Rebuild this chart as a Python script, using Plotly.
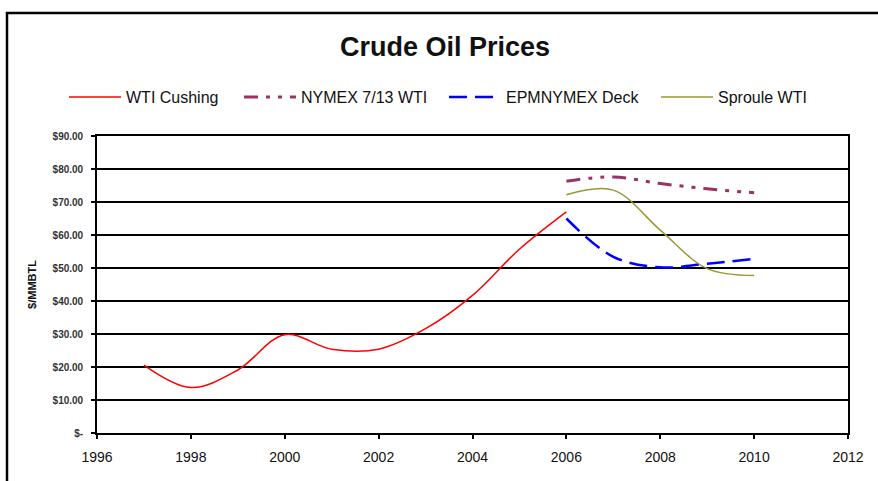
import plotly.graph_objects as go

# ---- data ----
wti_years = [1997, 1998, 1999, 2000, 2001, 2002, 2003, 2004, 2005, 2006]
wti_cushing = [20.6, 13.8, 19.1, 29.8, 25.4, 25.4, 31.6, 41.7, 55.7, 67.0]

fc_years = [2006, 2007, 2008, 2009, 2010]
nymex_713 = [76.3, 77.6, 75.6, 74.0, 72.8]
epm_nymex = [65.0, 53.4, 50.2, 51.3, 52.8]
sproule = [72.2, 73.6, 61.5, 49.8, 47.7]

y_tickvals = [0, 10, 20, 30, 40, 50, 60, 70, 80, 90]
y_ticktext = ["$-", "$10.00", "$20.00", "$30.00", "$40.00", "$50.00",
              "$60.00", "$70.00", "$80.00", "$90.00"]
x_tickvals = [1996, 1998, 2000, 2002, 2004, 2006, 2008, 2010, 2012]

FONT = "Arial, Liberation Sans, sans-serif"

fig = go.Figure()
fig.add_trace(go.Scatter(x=wti_years, y=wti_cushing, name="WTI Cushing", mode="lines",
                         legend="legend",
                         line=dict(color="#FF0000", width=1.5, shape="spline")))
fig.add_trace(go.Scatter(x=fc_years, y=nymex_713, name="NYMEX 7/13 WTI", mode="lines",
                         legend="legend2",
                         line=dict(color="#993366", width=3, shape="spline",
                                   dash="14px,8px,4px,8px,4px,8px")))
fig.add_trace(go.Scatter(x=fc_years, y=epm_nymex, name="EPMNYMEX Deck", mode="lines",
                         legend="legend3",
                         line=dict(color="#0000FF", width=2.5, shape="spline",
                                   dash="18px,8px")))
fig.add_trace(go.Scatter(x=fc_years, y=sproule, name="Sproule WTI", mode="lines",
                         legend="legend4",
                         line=dict(color="#999933", width=1.5, shape="spline")))

L, R, T, B = 97, 30, 136, 48
W, H = 878, 481
pw, ph = W - L - R, H - T - B

def px(xp):
    return (xp - L) / pw

def py(yp):
    return (H - B - yp) / ph

def leg(xpix):
    return dict(orientation="h", x=px(xpix), xanchor="left", y=py(97), yanchor="middle",
                font=dict(size=16, color="#111111"), itemwidth=52,
                bgcolor="rgba(0,0,0,0)")

fig.update_layout(
    width=W, height=H,
    margin=dict(l=L, r=R, t=T, b=B, autoexpand=False),
    paper_bgcolor="white", plot_bgcolor="white",
    font=dict(family=FONT, color="#111111"),
    title=dict(text="Crude Oil Prices", font=dict(size=27, weight="bold", color="#111111"),
               x=px(445), xref="paper", xanchor="center",
               y=1 - 47 / H, yref="container", yanchor="middle"),
    showlegend=True,
    legend=leg(64), legend2=leg(239), legend3=leg(444), legend4=leg(656),
    xaxis=dict(range=[1996, 2012], tickvals=x_tickvals, showgrid=False, automargin=False,
               showline=True, linecolor="black", linewidth=1.5, mirror=True,
               ticks="outside", ticklen=4, tickcolor="black", tickwidth=1.5,
               ticklabelstandoff=6,
               tickfont=dict(size=14, color="#111111"), zeroline=False),
    yaxis=dict(range=[0, 90], tickvals=y_tickvals, ticktext=y_ticktext, automargin=False,
               showgrid=True, gridcolor="black", gridwidth=1.6,
               showline=True, linecolor="black", linewidth=1.6, mirror=True,
               ticks="outside", ticklen=4, tickcolor="black", tickwidth=1.5,
               ticklabelstandoff=6,
               tickfont=dict(size=10, weight="bold", color="#333333"), zeroline=False,
               title=dict(text="$/MMBTL", font=dict(size=11, weight="bold", color="#111111"),
                          standoff=14)),
    shapes=[dict(type="rect", xref="paper", yref="paper",
                 x0=px(7), x1=px(884), y0=py(490), y1=py(13),
                 line=dict(color="black", width=2.5), fillcolor="rgba(0,0,0,0)",
                 layer="below")],
)

fig.write_html("out.html", config={"displayModeBar": False},
               post_script="document.body.style.margin='0';")
